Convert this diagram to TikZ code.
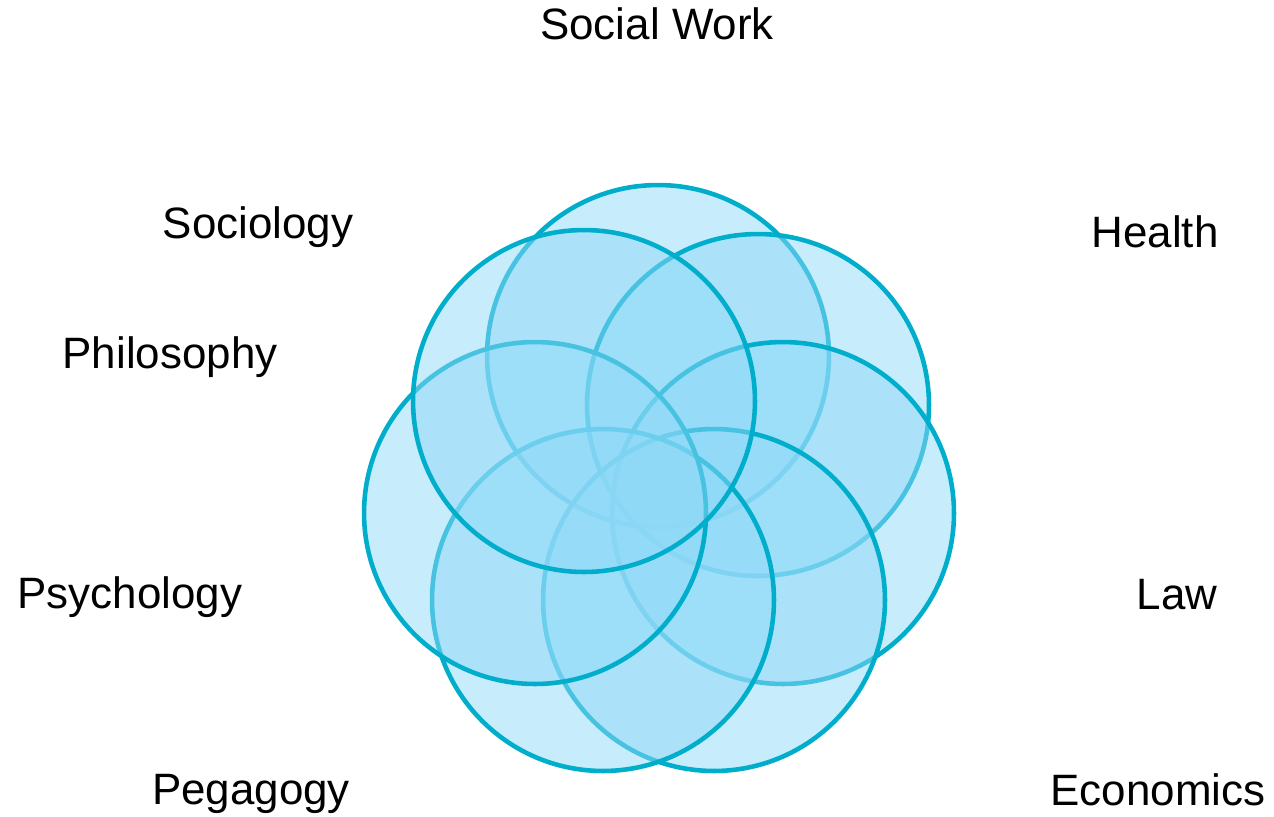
\documentclass[tikz,border=0pt]{standalone}
\usepackage{fontspec}
\newfontfamily\labelfont{Liberation Sans}
\definecolor{petalfill}{RGB}{143,217,247}
\definecolor{petaledge}{RGB}{0,174,204}
\tikzset{
  petal/.style = {fill=petalfill, fill opacity=0.5,
                  draw=petaledge, line width=#1},
  petal/.default = 2.6pt,
  field/.style = {anchor=base, inner sep=0pt, outer sep=0pt,
                  font=\labelfont\fontsize{25}{30}\selectfont}
}

\begin{document}
\begin{tikzpicture}[x=0.02cm, y=-0.02cm]
	\def \r{3.42cm}

	\useasboundingbox (0,0) rectangle (1274,816);

	% Petals, clockwise from the top
	\draw[petal] (658,356) circle (\r); % top
	\draw[petal] (758,405) circle (\r); % upper right
	\draw[petal] (783,513) circle (\r); % right
	\draw[petal] (714,600) circle (\r); % lower right
	\draw[petal] (603,600) circle (\r); % lower left
	\draw[petal] (535,513) circle (\r); % left
	\draw[petal] (584,401) circle (\r); % upper left

	% Fields
	\node[field] (socialwork) at (657,39)  {Social Work};
	\node[field] (sociology)  at (258,238) {Sociology};
	\node[field] (health)     at (1155,247) {Health};
	\node[field] (philosophy) at (170,368) {Philosophy};
	\node[field] (psychology) at (130,608) {Psychology};
	\node[field] (law)        at (1177,609) {Law};
	\node[field] (pegagogy)   at (251,804) {Pegagogy};
	\node[field] (economics)  at (1158,805) {Economics};

\end{tikzpicture}
\end{document}
